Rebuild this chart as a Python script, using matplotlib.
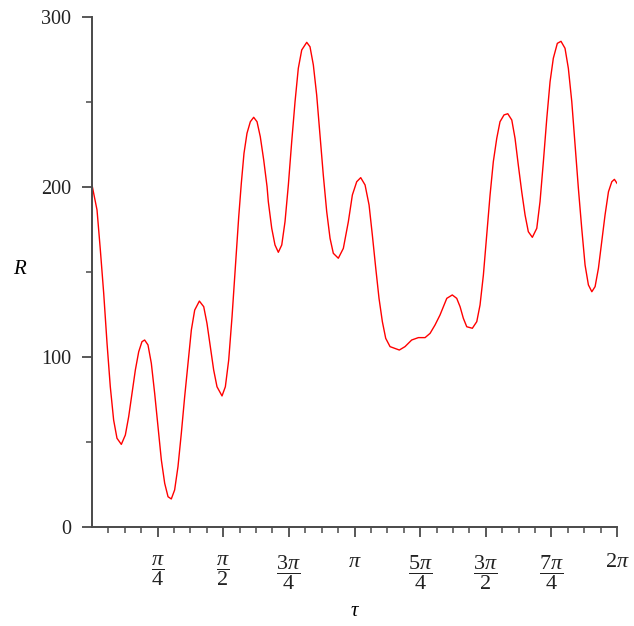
import numpy as np
import matplotlib
matplotlib.use("Agg")
import matplotlib.pyplot as plt
from matplotlib.ticker import FixedLocator

plt.rcParams['font.family'] = ['Liberation Serif', 'DejaVu Serif']
plt.rcParams['mathtext.fontset'] = 'custom'
plt.rcParams['mathtext.rm'] = 'Liberation Serif'
plt.rcParams['mathtext.it'] = 'Liberation Serif:italic'
plt.rcParams['mathtext.bf'] = 'Liberation Serif:bold'

# ---- data ----
tau = [0.000, 0.060, 0.100, 0.140, 0.180, 0.219, 0.259, 0.299, 0.351, 0.399,
       0.439, 0.479, 0.519, 0.559, 0.598, 0.630, 0.670, 0.710, 0.750, 0.790,
       0.830, 0.870, 0.910, 0.949, 0.989, 1.029, 1.069, 1.109, 1.149, 1.189,
       1.229, 1.285, 1.337, 1.376, 1.416, 1.456, 1.496, 1.556, 1.596, 1.636,
       1.676, 1.708, 1.736, 1.756, 1.787, 1.819, 1.855, 1.895, 1.935, 1.975,
       2.014, 2.055, 2.095, 2.110, 2.151, 2.190, 2.230, 2.271, 2.310, 2.350,
       2.390, 2.430, 2.469, 2.510, 2.570, 2.609, 2.649, 2.689, 2.729, 2.768,
       2.809, 2.849, 2.888, 2.948, 3.008, 3.068, 3.116, 3.168, 3.216, 3.268,
       3.316, 3.355, 3.396, 3.435, 3.475, 3.515, 3.567, 3.678, 3.746, 3.826,
       3.906, 3.986, 4.046, 4.105, 4.165, 4.205, 4.246, 4.312, 4.365, 4.405,
       4.444, 4.485, 4.552, 4.605, 4.644, 4.684, 4.724, 4.764, 4.803, 4.844,
       4.883, 4.931, 4.976, 5.024, 5.063, 5.102, 5.143, 5.183, 5.222, 5.270,
       5.323, 5.362, 5.402, 5.443, 5.482, 5.521, 5.569, 5.613, 5.661, 5.701,
       5.742, 5.781, 5.821, 5.861, 5.901, 5.941, 5.982, 6.021, 6.061, 6.101,
       6.140, 6.181, 6.221, 6.252, 6.283]
R = [201.2, 186.5, 162.9, 137.5, 108.0, 82.5, 62.9, 52.2, 48.6, 54.1,
     64.9, 78.6, 92.4, 103.1, 109.0, 110.0, 107.1, 96.3, 78.6, 59.0,
     39.4, 25.7, 17.8, 16.5, 21.8, 35.5, 55.1, 76.6, 96.3, 115.9,
     127.6, 132.9, 129.6, 119.8, 106.1, 92.4, 82.5, 77.1, 82.5, 98.2,
     123.7, 147.2, 166.9, 182.5, 202.2, 219.8, 231.6, 238.4, 241.0, 238.4,
     229.6, 215.9, 200.2, 191.4, 175.7, 165.9, 161.6, 165.9, 179.6, 201.2,
     226.6, 250.2, 269.8, 280.6, 285.1, 282.5, 271.8, 254.1, 230.6, 207.1,
     185.5, 169.8, 161.0, 158.1, 163.9, 179.6, 195.3, 203.1, 205.5, 201.2,
     189.4, 171.8, 152.2, 134.5, 120.8, 111.0, 106.1, 104.1, 106.1, 110.0,
     111.4, 111.4, 113.9, 118.8, 124.7, 129.6, 134.5, 136.5, 134.5, 129.6,
     122.8, 117.8, 116.9, 120.8, 130.6, 148.2, 171.8, 195.3, 214.9, 228.6,
     238.4, 242.4, 243.1, 239.4, 228.6, 212.9, 197.2, 183.5, 173.7, 170.4,
     175.7, 191.4, 214.9, 240.4, 261.9, 275.7, 284.5, 285.7, 281.6, 269.8,
     250.2, 224.7, 199.2, 175.7, 154.1, 142.4, 138.4, 141.4, 152.2, 167.8,
     183.5, 197.2, 203.1, 204.5, 202.2]

x_tick_labels = [r'$\dfrac{\pi}{4}$', r'$\dfrac{\pi}{2}$', r'$\dfrac{3\pi}{4}$', r'$\pi$',
                 r'$\dfrac{5\pi}{4}$', r'$\dfrac{3\pi}{2}$', r'$\dfrac{7\pi}{4}$', r'$2\pi$']
y_ticks = [0, 100, 200, 300]
y_minor = [50, 150, 250]

fig = plt.figure(figsize=(6.34, 6.26), dpi=100)
ax = fig.add_axes([92/634, 1 - 527/626, 525/634, 510/626])

ax.plot(tau, R, color='#ff0000', lw=1.0, solid_joinstyle='round')

ax.set_xlim(0, 2*np.pi)
ax.set_ylim(0, 300)

ax.spines['top'].set_visible(False)
ax.spines['right'].set_visible(False)
for s in ('left', 'bottom'):
    ax.spines[s].set_color('#4a4a4a')
    ax.spines[s].set_linewidth(1.4)

xt = [k*np.pi/4 for k in range(1, 9)]
ax.set_xticks(xt)
ax.set_xticklabels(x_tick_labels, fontsize=16)
ax.xaxis.set_minor_locator(FixedLocator([k*np.pi/16 for k in range(1, 33) if k % 4]))
ax.set_yticks(y_ticks)
ax.set_yticklabels([str(v) for v in y_ticks], fontsize=14.5)
ax.yaxis.set_minor_locator(FixedLocator(y_minor))

ax.tick_params(axis='both', which='major', length=7, width=1.3, color='#4a4a4a',
               labelcolor='#222222', direction='out')
ax.tick_params(axis='both', which='minor', length=4, width=1.1, color='#4a4a4a', direction='out')
ax.tick_params(axis='x', which='major', pad=12)
ax.tick_params(axis='y', which='major', pad=8)

ax.set_xlabel(r'$\tau$', fontsize=15, va='center')
ax.xaxis.set_label_coords((355-92)/525, (527-611)/510)
ax.set_ylabel(r'$R$', fontsize=15, rotation=0, va='center', ha='center')
ax.yaxis.set_label_coords((20-92)/525, (527-270)/510)

fig.savefig('out.png', dpi=100)
